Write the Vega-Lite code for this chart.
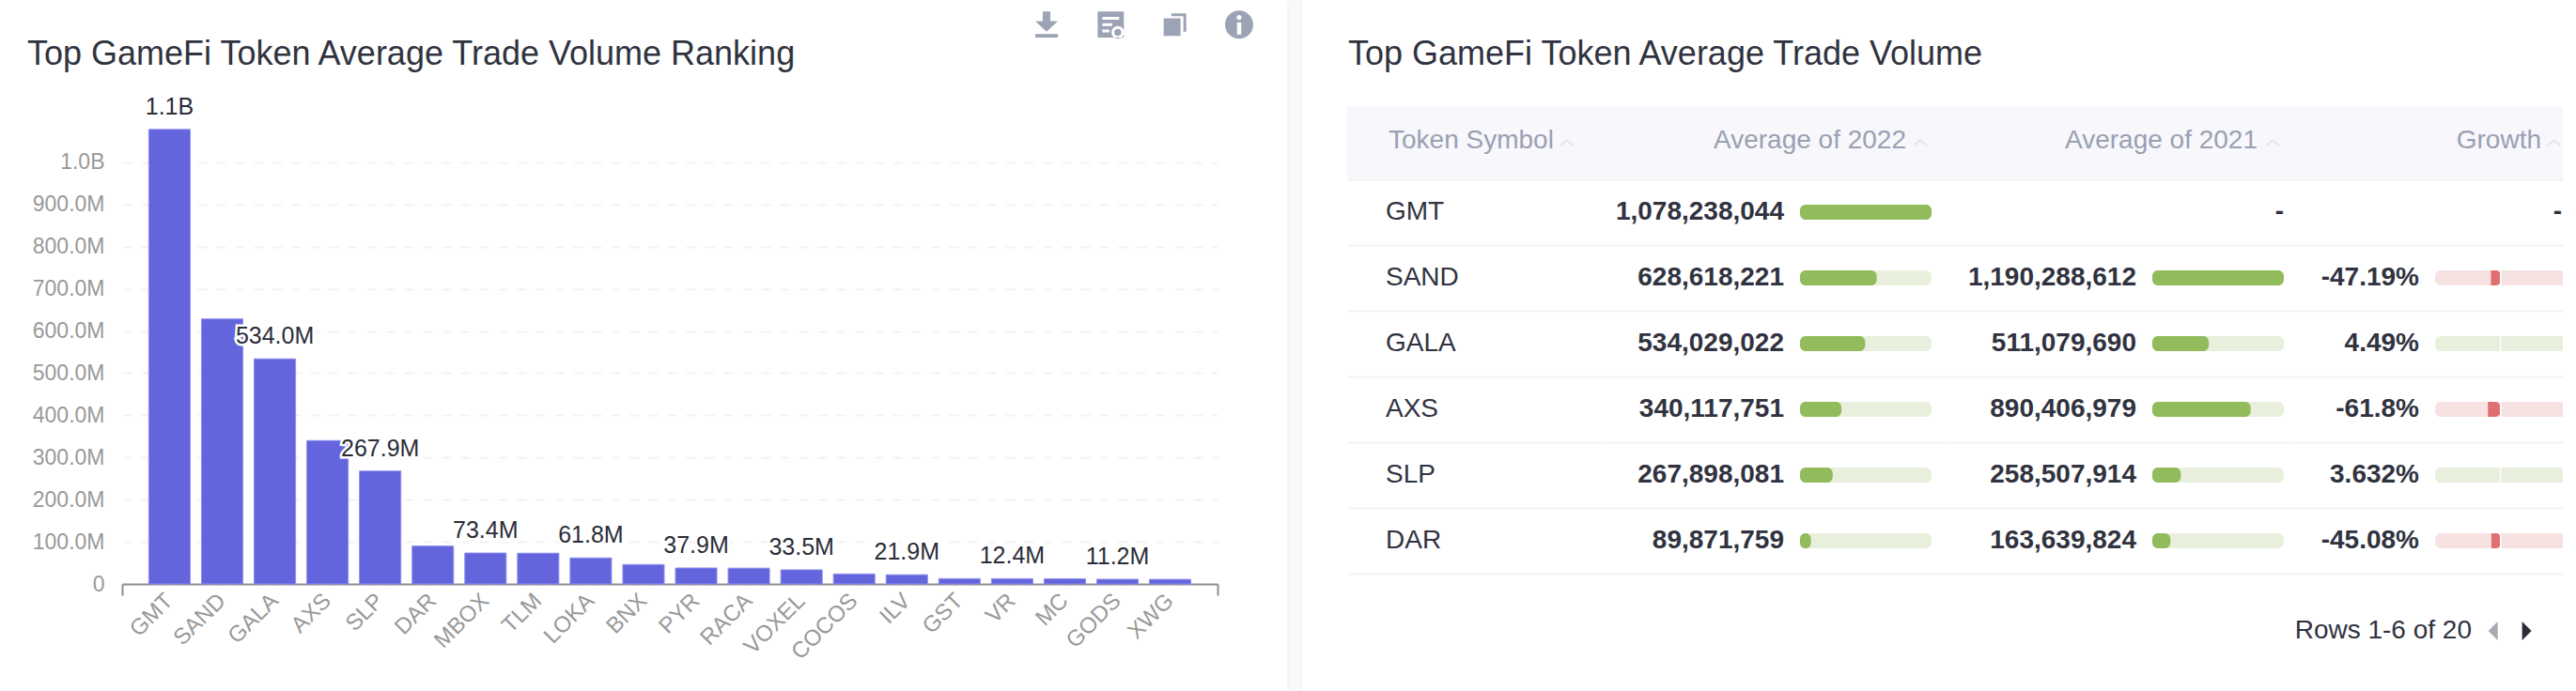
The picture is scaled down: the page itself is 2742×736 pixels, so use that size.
{
  "$schema": "https://vega.github.io/schema/vega-lite/v6.json",
  "background": "white",
  "padding": {"left": 29, "top": 0, "right": 0, "bottom": 0},
  "bounds": "flush",
  "spacing": 0,
  "datasets": {
    "ranking": [
      {"token": "GMT", "volume": 1078238044, "label": "1.1B"},
      {"token": "SAND", "volume": 628618221, "label": ""},
      {"token": "GALA", "volume": 534029022, "label": "534.0M"},
      {"token": "AXS", "volume": 340117751, "label": ""},
      {"token": "SLP", "volume": 267898081, "label": "267.9M"},
      {"token": "DAR", "volume": 89871759, "label": ""},
      {"token": "MBOX", "volume": 73400000, "label": "73.4M"},
      {"token": "TLM", "volume": 73000000, "label": ""},
      {"token": "LOKA", "volume": 61800000, "label": "61.8M"},
      {"token": "BNX", "volume": 46000000, "label": ""},
      {"token": "PYR", "volume": 37900000, "label": "37.9M"},
      {"token": "RACA", "volume": 37500000, "label": ""},
      {"token": "VOXEL", "volume": 33500000, "label": "33.5M"},
      {"token": "COCOS", "volume": 23700000, "label": ""},
      {"token": "ILV", "volume": 21900000, "label": "21.9M"},
      {"token": "GST", "volume": 12600000, "label": ""},
      {"token": "VR", "volume": 12400000, "label": "12.4M"},
      {"token": "MC", "volume": 12300000, "label": ""},
      {"token": "GODS", "volume": 11200000, "label": "11.2M"},
      {"token": "XWG", "volume": 10900000, "label": ""}
    ],
    "table": [
      {"rank": 1, "token": "GMT", "avg2022": 1078238044, "avg2021": null, "growth": null, "growthLabel": "-"},
      {"rank": 2, "token": "SAND", "avg2022": 628618221, "avg2021": 1190288612, "growth": -47.19, "growthLabel": "-47.19%"},
      {"rank": 3, "token": "GALA", "avg2022": 534029022, "avg2021": 511079690, "growth": 4.49, "growthLabel": "4.49%"},
      {"rank": 4, "token": "AXS", "avg2022": 340117751, "avg2021": 890406979, "growth": -61.8, "growthLabel": "-61.8%"},
      {"rank": 5, "token": "SLP", "avg2022": 267898081, "avg2021": 258507914, "growth": 3.632, "growthLabel": "3.632%"},
      {"rank": 6, "token": "DAR", "avg2022": 89871759, "avg2021": 163639824, "growth": -45.08, "growthLabel": "-45.08%"}
    ],
    "one": [{"id": 1}],
    "icons": [{"icon": "download"}, {"icon": "report"}, {"icon": "copy"}, {"icon": "info"}]
  },
  "hconcat": [
    {
      "width": 1166,
      "height": 621,
      "title": {"text": "Top GameFi Token Average Trade Volume Ranking", "anchor": "start", "frame": "group", "offset": -104, "dx": -101, "baseline": "alphabetic", "font": "Liberation Sans", "fontSize": 36, "fontWeight": "normal", "color": "#30333f"},
      "resolve": {"scale": {"x": "independent"}},
      "layer": [
        {
          "layer": [
            {
              "data": {"name": "ranking"},
              "mark": {"type": "bar", "color": "#6464dc", "stroke": "#8e8ef0", "strokeWidth": 1},
              "encoding": {
                "x": {"field": "token", "type": "nominal", "sort": null,
                  "scale": {"paddingInner": 0.214, "paddingOuter": 0.507},
                  "axis": {"title": null, "ticks": false, "labelAngle": -45, "labelAlign": "right", "labelBaseline": "middle", "labelPadding": 14, "labelOverlap": false, "labelFont": "Liberation Sans", "labelFontSize": 24, "labelColor": "#999999", "domainColor": "#8e8e8e", "domainWidth": 2, "grid": false}},
                "y": {"field": "volume", "type": "quantitative",
                  "scale": {"domain": [0, 1383000000], "nice": false},
                  "axis": {"title": null, "values": [0, 100000000, 200000000, 300000000, 400000000, 500000000, 600000000, 700000000, 800000000, 900000000, 1000000000], "labelExpr": "datum.value >= 1e9 ? format(datum.value / 1e9, '.1f') + 'B' : datum.value == 0 ? '0' : format(datum.value / 1e6, '.1f') + 'M'", "domain": false, "ticks": false, "labelPadding": 19, "labelFont": "Liberation Sans", "labelFontSize": 23, "labelColor": "#999999", "grid": true, "gridColor": "#f3f3f3", "gridWidth": 2, "gridDash": [10, 10]}}
              }
            },
            {
              "data": {"name": "ranking"},
              "mark": {"type": "text", "dy": -16, "baseline": "alphabetic", "font": "Liberation Sans", "fontSize": 25, "fill": "white", "stroke": "white", "strokeWidth": 5},
              "encoding": {
                "x": {"field": "token", "type": "nominal", "sort": null},
                "y": {"field": "volume", "type": "quantitative"},
                "text": {"field": "label"}
              }
            },
            {
              "data": {"name": "ranking"},
              "mark": {"type": "text", "dy": -16, "baseline": "alphabetic", "font": "Liberation Sans", "fontSize": 25, "color": "#2b2d3a"},
              "encoding": {
                "x": {"field": "token", "type": "nominal", "sort": null},
                "y": {"field": "volume", "type": "quantitative"},
                "text": {"field": "label"}
              }
            }
          ]
        },
        {
          "data": {"name": "one"},
          "mark": {"type": "rule", "opacity": 0},
          "encoding": {
            "x": {"datum": 0, "type": "quantitative", "scale": {"domain": [0, 1], "nice": false},
              "axis": {"title": null, "orient": "bottom", "values": [0, 1], "labels": false, "domain": false, "grid": false, "tickSize": 12, "tickColor": "#8e8e8e", "tickWidth": 2}}
          }
        },
        {
          "data": {"name": "icons"},
          "mark": {"type": "point", "filled": true, "opacity": 1, "color": "#9ca3b4", "size": 900},
          "encoding": {
            "x": {"field": "icon", "type": "nominal", "sort": null, "axis": null, "scale": {"type": "point", "padding": 0, "domain": ["download", "report", "copy", "info"], "range": [984, 1189]}},
            "y": {"datum": 1327000000, "type": "quantitative"},
            "shape": {"field": "icon", "type": "nominal", "legend": null, "scale": {"domain": ["download", "report", "copy", "info"], "range": [
              "M-.27-.93H.27V-.25H.8L0 .5L-.8-.25H-.27ZM-.8.68H.8V.93H-.8Z",
              "M-.93-.93H.93V.93H-.93ZM-.6-.55V-.35H.6V-.55ZM-.6-.1V.1H.1V-.1ZM-.6.35V.55H-.1V.35ZM.05.55A.45.45 0 0 0 .95.55A.45.45 0 0 0 .05.55ZM.25.55A.25.25 0 0 1 .75.55A.25.25 0 0 1 .25.55Z",
              "M-.25-.8H.8V.5H.6V-.6H-.25ZM-.8-.45H.4V.8H-.8Z",
              "M-1 0A1 1 0 1 1 1 0A1 1 0 1 1 -1 0ZM-.17-.5A.17.17 0 0 0 .17-.5A.17.17 0 0 0 -.17-.5ZM-.15-.15V.7H.15V-.15Z"
            ]}}
          }
        }
      ]
    },
    {
      "width": 138,
      "height": 736,
      "title": {"text": "Top GameFi Token Average Trade Volume", "anchor": "start", "frame": "group", "offset": -104, "dx": 139, "baseline": "alphabetic", "font": "Liberation Sans", "fontSize": 36, "fontWeight": "normal", "color": "#30333f", "limit": 800},
      "data": {"name": "one"},
      "mark": {"type": "rect", "color": "#f8f9fb", "stroke": "#f0f1f4", "strokeWidth": 1},
      "encoding": {
        "x": {"datum": 75, "type": "quantitative", "axis": null, "scale": {"domain": [0, 138], "nice": false}},
        "x2": {"datum": 89}
      }
    },
    {
      "width": 276,
      "height": 736,
      "layer": [
        {
          "data": {"name": "one"},
          "mark": {"type": "rect", "color": "#f7f7fc"},
          "encoding": {
            "y": {"datum": -0.614, "type": "quantitative",
              "scale": {"domain": [-2.2143, 8.3], "reverse": true, "nice": false, "zero": false, "padding": 0},
              "axis": {"title": null, "values": [0.5, 1.5, 2.5, 3.5, 4.5, 5.5, 6.5], "labels": false, "ticks": false, "domain": false, "grid": true, "gridColor": "#f3f3f5", "gridWidth": 2}},
            "y2": {"datum": 0.5}
          }
        },
        {
          "data": {"name": "one"},
          "mark": {"type": "text", "align": "left", "baseline": "middle", "dx": 3, "font": "Liberation Sans", "fontSize": 28, "color": "#9aa0b2", "text": "Token Symbol"},
          "encoding": {
            "x": {"datum": 0, "type": "quantitative", "axis": null, "scale": {"domain": [-0.17447, 1], "nice": false, "zero": false}},
            "y": {"datum": -0.08, "type": "quantitative"}
          }
        },
        {
          "data": {"name": "one"},
          "mark": {"type": "point", "shape": "M-1 .4L0 -.4L1 .4", "size": 169, "filled": false, "opacity": 1, "stroke": "#e4e6ec", "strokeWidth": 2},
          "encoding": {
            "x": {"datum": 0.82, "type": "quantitative"},
            "y": {"datum": -0.057, "type": "quantitative"}
          }
        },
        {
          "data": {"name": "table"},
          "mark": {"type": "text", "align": "left", "baseline": "middle", "font": "Liberation Sans", "fontSize": 28, "color": "#30333f"},
          "encoding": {
            "x": {"datum": 0, "type": "quantitative"},
            "y": {"field": "rank", "type": "quantitative"},
            "text": {"field": "token"}
          }
        }
      ]
    },
    {
      "width": 360,
      "height": 736,
      "layer": [
        {
          "data": {"name": "one"},
          "mark": {"type": "rect", "color": "#f7f7fc"},
          "encoding": {
            "y": {"datum": -0.614, "type": "quantitative",
              "scale": {"domain": [-2.2143, 8.3], "reverse": true, "nice": false, "zero": false, "padding": 0},
              "axis": {"title": null, "values": [0.5, 1.5, 2.5, 3.5, 4.5, 5.5, 6.5], "labels": false, "ticks": false, "domain": false, "grid": true, "gridColor": "#f3f3f5", "gridWidth": 2}},
            "y2": {"datum": 0.5}
          }
        },
        {
          "data": {"name": "one"},
          "mark": {"type": "text", "align": "right", "baseline": "middle", "dx": -27, "font": "Liberation Sans", "fontSize": 28, "color": "#9aa0b2", "text": "Average of 2022"},
          "encoding": {
            "x": {"datum": 1078238044, "type": "quantitative", "axis": null, "scale": {"domain": [-1586550200, 1186061800], "nice": false, "zero": false, "padding": 0}},
            "y": {"datum": -0.08, "type": "quantitative"}
          }
        },
        {
          "data": {"name": "one"},
          "mark": {"type": "point", "shape": "M-1 .4L0 -.4L1 .4", "size": 169, "filled": false, "opacity": 1, "stroke": "#e4e6ec", "strokeWidth": 2},
          "encoding": {
            "x": {"datum": 985800000, "type": "quantitative"},
            "y": {"datum": -0.057, "type": "quantitative"}
          }
        },
        {
          "data": {"name": "table"},
          "mark": {"type": "bar", "orient": "horizontal", "height": 16, "cornerRadius": 6, "color": "#e8f0dd"},
          "encoding": {
            "x": {"datum": 0, "type": "quantitative"},
            "x2": {"datum": 1078238044},
            "y": {"field": "rank", "type": "quantitative"}
          }
        },
        {
          "data": {"name": "table"},
          "mark": {"type": "bar", "orient": "horizontal", "height": 16, "cornerRadius": 6, "color": "#92bb5c"},
          "encoding": {
            "x": {"field": "avg2022", "type": "quantitative", "stack": null},
            "y": {"field": "rank", "type": "quantitative"}
          }
        },
        {
          "data": {"name": "table"},
          "mark": {"type": "text", "align": "right", "baseline": "middle", "dx": -17, "font": "Liberation Sans", "fontWeight": "bold", "fontSize": 28, "color": "#30333f"},
          "encoding": {
            "x": {"datum": 0, "type": "quantitative"},
            "y": {"field": "rank", "type": "quantitative"},
            "text": {"field": "avg2022", "type": "quantitative", "format": ","}
          }
        }
      ]
    },
    {
      "width": 370,
      "height": 736,
      "layer": [
        {
          "data": {"name": "one"},
          "mark": {"type": "rect", "color": "#f7f7fc"},
          "encoding": {
            "y": {"datum": -0.614, "type": "quantitative",
              "scale": {"domain": [-2.2143, 8.3], "reverse": true, "nice": false, "zero": false, "padding": 0},
              "axis": {"title": null, "values": [0.5, 1.5, 2.5, 3.5, 4.5, 5.5, 6.5], "labels": false, "ticks": false, "domain": false, "grid": true, "gridColor": "#f3f3f5", "gridWidth": 2}},
            "y2": {"datum": 0.5}
          }
        },
        {
          "data": {"name": "one"},
          "mark": {"type": "text", "align": "right", "baseline": "middle", "dx": -28, "font": "Liberation Sans", "fontSize": 28, "color": "#9aa0b2", "text": "Average of 2021"},
          "encoding": {
            "x": {"datum": 1190288612, "type": "quantitative", "axis": null, "scale": {"domain": [-1878955600, 1266807200], "nice": false, "zero": false, "padding": 0}},
            "y": {"datum": -0.08, "type": "quantitative"}
          }
        },
        {
          "data": {"name": "one"},
          "mark": {"type": "point", "shape": "M-1 .4L0 -.4L1 .4", "size": 169, "filled": false, "opacity": 1, "stroke": "#e4e6ec", "strokeWidth": 2},
          "encoding": {
            "x": {"datum": 1088000000, "type": "quantitative"},
            "y": {"datum": -0.057, "type": "quantitative"}
          }
        },
        {
          "data": {"name": "table"},
          "transform": [{"filter": "datum.avg2021 != null"}],
          "mark": {"type": "bar", "orient": "horizontal", "height": 16, "cornerRadius": 6, "color": "#e8f0dd"},
          "encoding": {
            "x": {"datum": 0, "type": "quantitative"},
            "x2": {"datum": 1190288612},
            "y": {"field": "rank", "type": "quantitative"}
          }
        },
        {
          "data": {"name": "table"},
          "transform": [{"filter": "datum.avg2021 != null"}],
          "mark": {"type": "bar", "orient": "horizontal", "height": 16, "cornerRadius": 6, "color": "#92bb5c"},
          "encoding": {
            "x": {"field": "avg2021", "type": "quantitative", "stack": null},
            "y": {"field": "rank", "type": "quantitative"}
          }
        },
        {
          "data": {"name": "table"},
          "transform": [{"filter": "datum.avg2021 != null"}],
          "mark": {"type": "text", "align": "right", "baseline": "middle", "dx": -17, "font": "Liberation Sans", "fontWeight": "bold", "fontSize": 28, "color": "#30333f"},
          "encoding": {
            "x": {"datum": 0, "type": "quantitative"},
            "y": {"field": "rank", "type": "quantitative"},
            "text": {"field": "avg2021", "type": "quantitative", "format": ","}
          }
        },
        {
          "data": {"name": "table"},
          "transform": [{"filter": "datum.avg2021 == null"}],
          "mark": {"type": "text", "align": "right", "baseline": "middle", "font": "Liberation Sans", "fontWeight": "bold", "fontSize": 28, "color": "#30333f", "text": "-"},
          "encoding": {
            "x": {"datum": 1190288612, "type": "quantitative"},
            "y": {"field": "rank", "type": "quantitative"}
          }
        }
      ]
    },
    {
      "width": 288,
      "height": 736,
      "layer": [
        {
          "data": {"name": "one"},
          "mark": {"type": "rect", "color": "#f7f7fc"},
          "encoding": {
            "y": {"datum": -0.614, "type": "quantitative",
              "scale": {"domain": [-2.2143, 8.3], "reverse": true, "nice": false, "zero": false, "padding": 0},
              "axis": {"title": null, "values": [0.5, 1.5, 2.5, 3.5, 4.5, 5.5, 6.5], "labels": false, "ticks": false, "domain": false, "grid": true, "gridColor": "#f3f3f5", "gridWidth": 2}},
            "y2": {"datum": 0.5}
          }
        },
        {
          "data": {"name": "one"},
          "mark": {"type": "text", "align": "right", "baseline": "middle", "dx": -23, "font": "Liberation Sans", "fontSize": 28, "color": "#9aa0b2", "text": "Growth"},
          "encoding": {
            "x": {"datum": 304, "type": "quantitative", "axis": null, "scale": {"domain": [-1017.4, 304], "nice": false, "zero": false, "padding": 0}},
            "y": {"datum": -0.08, "type": "quantitative"}
          }
        },
        {
          "data": {"name": "one"},
          "mark": {"type": "point", "shape": "M-1 .4L0 -.4L1 .4", "size": 169, "filled": false, "opacity": 1, "stroke": "#e4e6ec", "strokeWidth": 2},
          "encoding": {
            "x": {"datum": 261, "type": "quantitative"},
            "y": {"datum": -0.057, "type": "quantitative"}
          }
        },
        {
          "data": {"name": "table"},
          "transform": [{"filter": "datum.growth != null"}],
          "mark": {"type": "bar", "orient": "horizontal", "height": 16, "cornerRadius": 6, "clip": true},
          "encoding": {
            "x": {"datum": -320, "type": "quantitative"},
            "x2": {"datum": 320},
            "y": {"field": "rank", "type": "quantitative"},
            "color": {"condition": {"test": "datum.growth < 0", "value": "#f7e2e2"}, "value": "#e8f0dd"}
          }
        },
        {
          "data": {"name": "table"},
          "transform": [{"filter": "datum.growth != null"}],
          "mark": {"type": "bar", "orient": "horizontal", "height": 16, "cornerRadiusEnd": 6},
          "encoding": {
            "x": {"field": "growth", "type": "quantitative", "stack": null},
            "y": {"field": "rank", "type": "quantitative"},
            "color": {"condition": {"test": "datum.growth < 0", "value": "#e07070"}, "value": "#e8f0dd"}
          }
        },
        {
          "data": {"name": "table"},
          "transform": [{"filter": "datum.growth != null"}],
          "mark": {"type": "tick", "orient": "vertical", "size": 16, "thickness": 1.5, "color": "white", "opacity": 1},
          "encoding": {
            "x": {"datum": 0, "type": "quantitative"},
            "y": {"field": "rank", "type": "quantitative"}
          }
        },
        {
          "data": {"name": "table"},
          "transform": [{"filter": "datum.growth != null"}],
          "mark": {"type": "text", "align": "right", "baseline": "middle", "dx": -17, "font": "Liberation Sans", "fontWeight": "bold", "fontSize": 28, "color": "#30333f"},
          "encoding": {
            "x": {"datum": -320, "type": "quantitative"},
            "y": {"field": "rank", "type": "quantitative"},
            "text": {"field": "growthLabel"}
          }
        },
        {
          "data": {"name": "table"},
          "transform": [{"filter": "datum.growth == null"}],
          "mark": {"type": "text", "align": "right", "baseline": "middle", "dx": -1, "font": "Liberation Sans", "fontWeight": "bold", "fontSize": 28, "color": "#30333f"},
          "encoding": {
            "x": {"datum": 304, "type": "quantitative"},
            "y": {"field": "rank", "type": "quantitative"},
            "text": {"field": "growthLabel"}
          }
        },
        {
          "data": {"name": "one"},
          "mark": {"type": "text", "align": "right", "baseline": "middle", "dx": 39, "font": "Liberation Sans", "fontSize": 28, "color": "#30333f", "text": "Rows 1-6 of 20"},
          "encoding": {
            "x": {"datum": -320, "type": "quantitative"},
            "y": {"datum": 7.37, "type": "quantitative"}
          }
        },
        {
          "data": {"name": "one"},
          "mark": {"type": "point", "shape": "M.5 -1V1L-.5 0Z", "size": 400, "filled": true, "opacity": 1, "color": "#a9abb3"},
          "encoding": {
            "x": {"datum": -37, "type": "quantitative"},
            "y": {"datum": 7.37, "type": "quantitative"}
          }
        },
        {
          "data": {"name": "one"},
          "mark": {"type": "point", "shape": "M-.5 -1V1L.5 0Z", "size": 400, "filled": true, "opacity": 1, "color": "#2b2d3a"},
          "encoding": {
            "x": {"datum": 128, "type": "quantitative"},
            "y": {"datum": 7.37, "type": "quantitative"}
          }
        }
      ]
    }
  ],
  "config": {"view": {"stroke": null}}
}
